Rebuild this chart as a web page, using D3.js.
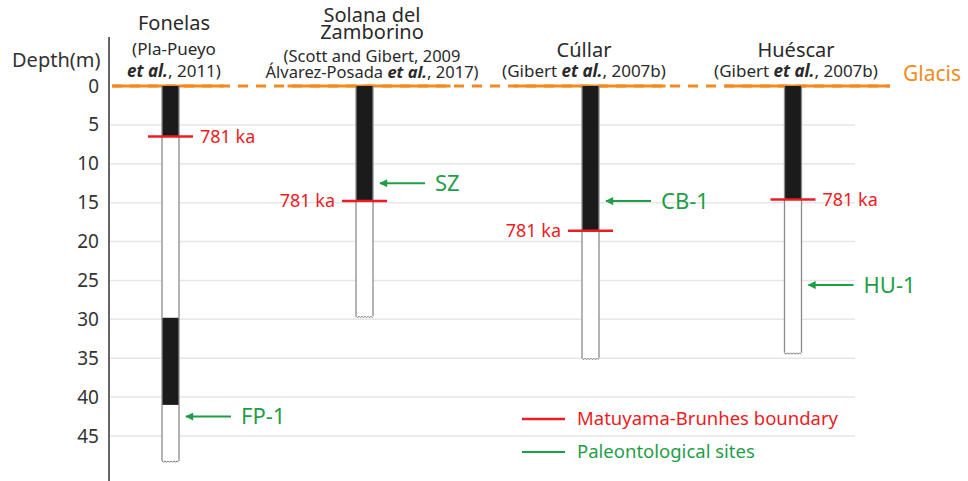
<!DOCTYPE html>
<html>
<head>
<meta charset="utf-8">
<script src="https://cdn.jsdelivr.net/npm/d3@7"></script>
<style>
  body { margin: 0; background: #fff; }
  text { font-family: "Noto Sans", sans-serif; }
</style>
</head>
<body>
<div id="chart"></div>
<script>
// Magnetostratigraphic sections of the Baza basin sites

const sites = ["Fonelas", "Solana del Zamborino", "Cúllar", "Huéscar"];
const sectionBase = [48.2, 29.6, 35.0, 34.3];          // depth (m) of bottom of each section
const reversedIntervals = [                             // black intervals (Matuyama)
  [[0, 6.5], [29.8, 41.0]],
  [[0, 14.8]],
  [[0, 18.6]],
  [[0, 14.6]]
];
const mbDepth = [6.5, 14.8, 18.6, 14.6];                // Matuyama-Brunhes boundary (781 ka)
const siteCodes = ["FP-1", "SZ", "CB-1", "HU-1"];
const siteDepth = [42.5, 12.5, 14.8, 25.6];             // paleontological sites
const depthTicks = [0, 5, 10, 15, 20, 25, 30, 35, 40, 45];
const titleLines = [
  ["Fonelas"],
  ["Solana del", "Zamborino"],
  ["Cúllar"],
  ["Huéscar"]
];
const refLines = [
  [["(Pla-Pueyo"], ["", "et al.", ", 2011)"]],
  [["(Scott and Gibert, 2009"], ["Álvarez-Posada ", "et al.", ", 2017)"]],
  [["(Gibert ", "et al.", ", 2007b)"]],
  [["(Gibert ", "et al.", ", 2007b)"]]
];

const width = 968, height = 481;
const red = "#ec1c24", green = "#1f9e48", orange = "#f28a1e";

const svg = d3.select("#chart").append("svg")
  .attr("width", width)
  .attr("height", height);

// scales
const y = d3.scaleLinear().domain([0, 45]).range([86, 436]);
const x = d3.scaleOrdinal().domain(sites).range([170.5, 364.5, 590.5, 793]);
const colW = 17;

// grid lines
svg.append("g")
  .selectAll("line")
  .data(depthTicks.filter(d => d > 0))
  .enter().append("line")
  .attr("x1", 110).attr("x2", 855)
  .attr("y1", d => y(d)).attr("y2", d => y(d))
  .attr("stroke", "#e6e6e6")
  .attr("stroke-width", 1.5);

// y axis
const yAxis = d3.axisLeft(y).tickValues(depthTicks).tickSize(0).tickPadding(10);
const axisG = svg.append("g")
  .attr("transform", "translate(109,0)")
  .call(yAxis);
axisG.select(".domain").remove();
axisG.selectAll("text")
  .style("font-family", "'Noto Sans', sans-serif")
  .style("font-size", "19px")
  .attr("fill", "#333");
svg.append("line")
  .attr("x1", 109).attr("x2", 109)
  .attr("y1", 37).attr("y2", 481)
  .attr("stroke", "#666")
  .attr("stroke-width", 2);

svg.append("text")
  .attr("x", 12).attr("y", 67)
  .style("font-size", "20px")
  .attr("fill", "#333")
  .text("Depth(m)");

// glacis surface: dashed between sections, solid under each title
const solidSpan = [[-58, 53], [-77, 86], [-77, 75], [-68, 97]];
svg.append("line")
  .attr("x1", 112).attr("x2", 890)
  .attr("y1", y(0)).attr("y2", y(0))
  .attr("stroke", orange)
  .attr("stroke-width", 3)
  .attr("stroke-dasharray", "10,8");
sites.forEach((s, i) => {
  svg.append("line")
    .attr("x1", x(s) + solidSpan[i][0]).attr("x2", x(s) + solidSpan[i][1])
    .attr("y1", y(0)).attr("y2", y(0))
    .attr("stroke", orange)
    .attr("stroke-width", 3);
});
svg.append("text")
  .attr("x", 903).attr("y", 81)
  .style("font-size", "21px")
  .attr("fill", orange)
  .text("Glacis");

// arrow marker
svg.append("defs").append("marker")
  .attr("id", "arrow")
  .attr("viewBox", "0 0 10 10")
  .attr("refX", 9).attr("refY", 5)
  .attr("markerWidth", 4.5).attr("markerHeight", 4)
  .attr("markerUnits", "strokeWidth")
  .attr("orient", "auto")
  .append("path")
  .attr("d", "M0,0 L10,5 L0,10 Z")
  .attr("fill", green);

// sections
sites.forEach((s, i) => {
  const g = svg.append("g");
  const x0 = x(s) - colW / 2, x1 = x(s) + colW / 2;

  g.append("rect")
    .attr("x", x0).attr("y", y(0))
    .attr("width", colW).attr("height", y(sectionBase[i]) - y(0))
    .attr("fill", "#fff");

  g.selectAll(".rev")
    .data(reversedIntervals[i])
    .enter().append("rect")
    .attr("x", x0).attr("width", colW)
    .attr("y", d => y(d[0]))
    .attr("height", d => y(d[1]) - y(d[0]))
    .attr("fill", "#1b1b1b");

  [x0, x1].forEach(xx => {
    g.append("line")
      .attr("x1", xx).attr("x2", xx)
      .attr("y1", y(0)).attr("y2", y(sectionBase[i]))
      .attr("stroke", "#8a8a8a")
      .attr("stroke-width", 1.3);
  });

  // zigzag base
  const zz = d3.range(0, colW + 0.1, 1.5).map((dx, k) => [x0 + dx, y(sectionBase[i]) + (k % 2 ? 1.5 : 0)]);
  g.append("path")
    .attr("d", d3.line()(zz))
    .attr("fill", "none")
    .attr("stroke", "#777")
    .attr("stroke-width", 1);

  // Matuyama-Brunhes boundary
  g.append("line")
    .attr("x1", x0 - 14).attr("x2", x1 + 14)
    .attr("y1", y(mbDepth[i])).attr("y2", y(mbDepth[i]))
    .attr("stroke", red)
    .attr("stroke-width", 2.5);
  const right = (i === 0 || i === 3);
  g.append("text")
    .attr("x", right ? x1 + 21 : x0 - 21)
    .attr("y", y(mbDepth[i]))
    .attr("dy", "0.35em")
    .attr("text-anchor", right ? "start" : "end")
    .style("font-size", "18px")
    .attr("fill", red)
    .text("781 ka");

  // paleontological site
  g.append("line")
    .attr("x1", x1 + 52).attr("x2", x1 + 7)
    .attr("y1", y(siteDepth[i])).attr("y2", y(siteDepth[i]))
    .attr("stroke", green)
    .attr("stroke-width", 2)
    .attr("marker-end", "url(#arrow)");
  g.append("text")
    .attr("x", x1 + 62)
    .attr("y", y(siteDepth[i]))
    .attr("dy", "0.36em")
    .style("font-size", "22px")
    .attr("fill", green)
    .text(siteCodes[i]);
});

// titles
const titleX = [174, 372, 584, 796];
const titleBase = [30, 22, 57, 57];
const refBase = [[55, 77], [62, 78], [77], [77]];
sites.forEach((s, i) => {
  titleLines[i].forEach((t, k) => {
    svg.append("text")
      .attr("x", titleX[i]).attr("y", titleBase[i] + k * 17)
      .attr("text-anchor", "middle")
      .style("font-size", "20px")
      .attr("fill", "#2a2a2a")
      .text(t);
  });
  refLines[i].forEach((parts, k) => {
    const t = svg.append("text")
      .attr("x", titleX[i]).attr("y", refBase[i][k])
      .attr("text-anchor", "middle")
      .style("font-size", i === 1 ? "16.5px" : "17px")
      .attr("fill", "#2a2a2a");
    parts.forEach((p, j) => {
      if (!p) return;
      const span = t.append("tspan").text(p);
      if (p === "et al.") span.style("font-style", "italic").style("font-weight", "bold");
    });
  });
});

// legend
const legend = [["Matuyama-Brunhes boundary", red, 2.5], ["Paleontological sites", green, 2]];
legend.forEach((d, i) => {
  const ly = 419 + i * 33;
  svg.append("line")
    .attr("x1", 522).attr("x2", 565)
    .attr("y1", ly).attr("y2", ly)
    .attr("stroke", d[1]).attr("stroke-width", d[2]);
  svg.append("text")
    .attr("x", 577).attr("y", ly)
    .attr("dy", "0.35em")
    .style("font-size", "18.5px")
    .attr("fill", d[1])
    .text(d[0]);
});
</script>
</body>
</html>
